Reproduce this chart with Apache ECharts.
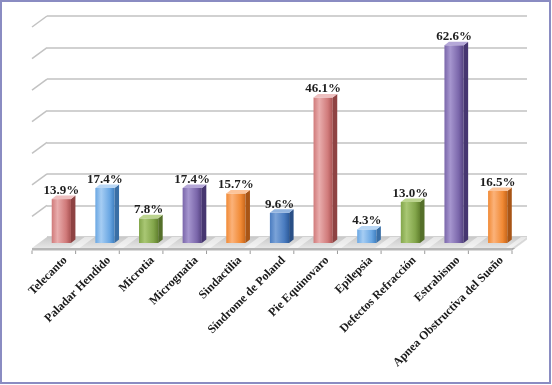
<!DOCTYPE html>
<html>
<head>
<meta charset="utf-8">
<script src="https://cdn.jsdelivr.net/npm/echarts@6/dist/echarts.min.js"></script>
<style>
  html, body { margin: 0; padding: 0; background: #fff; }
  #chart { width: 552px; height: 385px; }
</style>
</head>
<body>
<div id="chart"></div>
<script>
// data
const categories = [
  'Telecanto', 'Paladar Hendido', 'Microtia', 'Micrognatia', 'Sindactilia',
  'Síndrome de Poland', 'Pie Equinovaro', 'Epilepsia', 'Defectos Refracción',
  'Estrabismo', 'Apnea Obstructiva del Sueño'
];
const values = [13.9, 17.4, 7.8, 17.4, 15.7, 9.6, 46.1, 4.3, 13.0, 62.6, 16.5];
const yTicks = [0, 10, 20, 30, 40, 50, 60, 70];

// colour per bar: [light, base, dark, side, top]
const RED = ['#e9adad', '#d07a7a', '#a85252', '#8e4343', '#eec0c0'];
const LBLUE = ['#a6cdf3', '#6aa7e3', '#3f7fc0', '#3a6fa6', '#b9d7f5'];
const GREEN = ['#a9c774', '#83a64b', '#62812f', '#55702a', '#bcd48f'];
const PURPLE = ['#a696cf', '#7a66aa', '#54427f', '#463670', '#b5a8d8'];
const ORANGE = ['#fbb27a', '#f18a35', '#c8661a', '#a85516', '#fcc49a'];
const BLUE = ['#7ba3d8', '#4a7cc0', '#2f5c9c', '#294f86', '#93b5e0'];
const palette = [RED, LBLUE, GREEN, PURPLE, ORANGE, BLUE, RED, LBLUE, GREEN, PURPLE, ORANGE];

// 3d look: full depth of the floor and half depth where the bars stand
const DEPTH = [-15, 11];
const BAR_SHIFT = [-7.5, 6];
const BAR_DEPTH = [4.5, -3.5];

const serif = '"Liberation Serif", "DejaVu Serif", serif';

function renderFloor(params, api) {
  const band = api.size([1, 0])[0];
  const first = api.coord([0, 0]);
  const last = api.coord([categories.length - 1, 0]);
  const x0 = first[0] - band / 2;
  const x1 = last[0] + band / 2;
  const y = first[1];
  const fx0 = x0 + DEPTH[0];
  const fx1 = x1 + DEPTH[0];
  const fy = y + DEPTH[1];
  const children = [
    {
      type: 'polygon',
      shape: { points: [[x0, y], [x1, y], [fx1, fy], [fx0, fy]] },
      style: {
        fill: new echarts.graphic.LinearGradient(0, 0, 0, 1, [
          { offset: 0, color: '#c9c9c9' },
          { offset: 1, color: '#e6e6e6' }
        ])
      }
    },
    {
      type: 'polygon',
      shape: { points: [[fx0, fy], [fx1, fy], [fx1, fy + 2.5], [fx0, fy + 2.5]] },
      style: { fill: '#b5b5b5' }
    },
    {
      type: 'polygon',
      shape: { points: [[x1, y], [x1, y + 2.5], [fx1, fy + 2.5], [fx1, fy]] },
      style: { fill: '#a9a9a9' }
    }
  ];
  // white reflections between the bars
  for (let i = 0; i < categories.length; i++) {
    const cx = api.coord([i, 0])[0] + band / 2;
    children.push({
      type: 'polygon',
      shape: { points: [[cx - 6, y], [cx + 4, y], [cx + 4 + DEPTH[0], fy], [cx - 6 + DEPTH[0], fy]] },
      style: { fill: 'rgba(255,255,255,0.55)' }
    });
  }
  for (let i = 0; i <= categories.length; i++) {
    const tx = x0 + i * band + DEPTH[0];
    children.push({
      type: 'line',
      shape: { x1: tx, y1: fy + 2.5, x2: tx, y2: fy + 6 },
      style: { stroke: '#9a9a9a', lineWidth: 1 }
    });
  }
  return { type: 'group', children: children };
}

function renderStub(params, api) {
  const band = api.size([1, 0])[0];
  const p = api.coord([0, api.value(1)]);
  const x = p[0] - band / 2;
  return {
    type: 'line',
    shape: { x1: x, y1: p[1], x2: x + DEPTH[0], y2: p[1] + DEPTH[1] },
    style: { stroke: '#c2c2c2', lineWidth: 1.5 }
  };
}

function renderBar(params, api) {
  const idx = api.value(0);
  const val = api.value(1);
  const top = api.coord([idx, val]);
  const base = api.coord([idx, 0]);
  const band = api.size([1, 0])[0];
  const w = band * 0.44;
  const x = top[0] + BAR_SHIFT[0] - w / 2;
  const yt = top[1] + BAR_SHIFT[1];
  const yb = base[1] + BAR_SHIFT[1];
  const c = palette[idx];
  const dx = BAR_DEPTH[0];
  const dy = BAR_DEPTH[1];
  return {
    type: 'group',
    children: [
      {
        type: 'rect',
        shape: { x: x, y: yt, width: w, height: yb - yt },
        style: {
          fill: new echarts.graphic.LinearGradient(0, 0, 1, 0, [
            { offset: 0, color: c[1] },
            { offset: 0.3, color: c[0] },
            { offset: 0.75, color: c[1] },
            { offset: 1, color: c[2] }
          ])
        }
      },
      {
        type: 'polygon',
        shape: { points: [[x + w, yt], [x + w + dx, yt + dy], [x + w + dx, yb + dy], [x + w, yb]] },
        style: { fill: c[3] }
      },
      {
        type: 'polygon',
        shape: { points: [[x, yt], [x + dx, yt + dy], [x + w + dx, yt + dy], [x + w, yt]] },
        style: { fill: c[4] }
      },
      {
        type: 'text',
        style: {
          x: x + w / 2,
          y: yt + dy - 5,
          text: val.toFixed(1) + '%',
          align: 'center',
          verticalAlign: 'middle',
          fill: '#1e1e1e',
          font: 'bold 13px ' + serif
        }
      }
    ]
  };
}

const chart = echarts.init(document.getElementById('chart'), null, { renderer: 'canvas' });

chart.setOption({
  animation: false,
  backgroundColor: '#ffffff',
  graphic: [{
    type: 'rect',
    shape: { x: 1, y: 1, width: 549, height: 382 },
    style: { fill: 'none', stroke: '#8a8cc2', lineWidth: 2 },
    z: 100
  }],
  grid: { left: 47, right: 25, top: 16, bottom: 148 },
  xAxis: {
    type: 'category',
    data: categories,
    axisLine: { show: false },
    axisTick: { show: false },
    axisLabel: {
      interval: 0,
      rotate: 45,
      margin: 18,
      padding: [0, 5, 0, 0],
      color: '#1a1a1a',
      fontFamily: serif,
      fontWeight: 'bold',
      fontSize: 12
    }
  },
  yAxis: {
    type: 'value',
    min: 0,
    max: 70,
    interval: 10,
    axisLine: { show: false },
    axisTick: { show: false },
    axisLabel: { show: false },
    splitLine: { lineStyle: { color: '#c2c2c2', width: 1.5 } }
  },
  series: [
    {
      type: 'custom',
      renderItem: renderFloor,
      data: [[0, 0]],
      z: 1,
      silent: true
    },
    {
      type: 'custom',
      renderItem: renderStub,
      data: yTicks.slice(1).map(v => [0, v]),
      z: 1,
      silent: true
    },
    {
      type: 'custom',
      renderItem: renderBar,
      data: values.map((v, i) => [i, v]),
      z: 5
    }
  ]
});
</script>
</body>
</html>
